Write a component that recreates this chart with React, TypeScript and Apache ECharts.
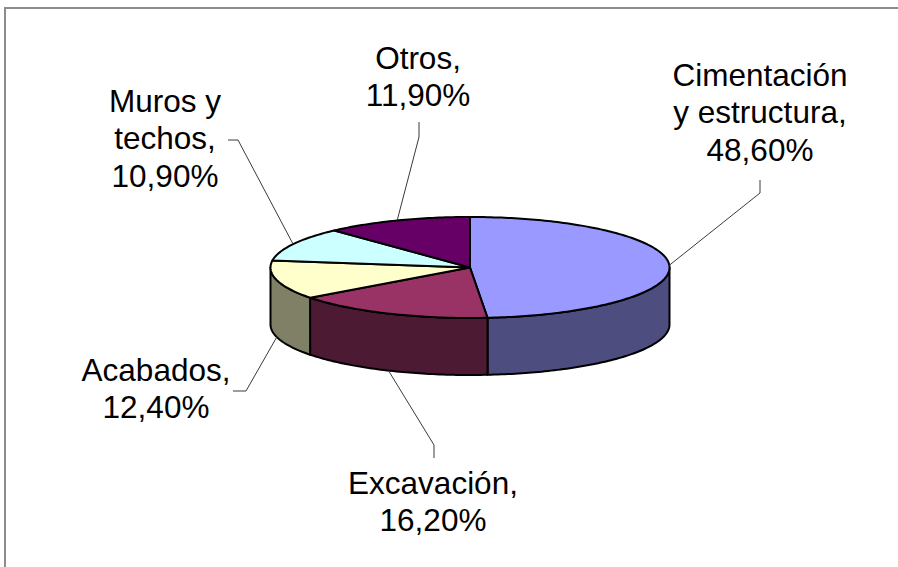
import React, { useEffect, useRef } from "react";
import * as echarts from "echarts";

// ---- Data ----
const CATEGORIES = ["Cimentación\ny estructura", "Excavación", "Acabados", "Muros y\ntechos", "Otros"];
const VALUES = [48.6, 16.2, 12.4, 10.9, 11.9];
const TOP_COLORS = ["#9999FF", "#993366", "#FFFFCC", "#CCFFFF", "#660066"];
const SIDE_COLORS = ["#4D4D80", "#4D1A33", "#808066", "#668080", "#330033"];

// ---- Layout (positions/styles only) ----
const CX = 470;
const CY = 267.5;
const RX = 199.5;
const RY = 50.5;
const DEPTH = 57;
const FONT = '31.5px "Liberation Sans", Arial, sans-serif';
const LABEL_LAYOUT = [
  { x: 760, y: 56, elbow: [760, 193], end: [760, 180] },
  { x: 433, y: 464, elbow: [434, 445], end: [434, 458] },
  { x: 156, y: 351, elbow: [246, 391], end: [233, 391] },
  { x: 165, y: 82, elbow: [238, 140], end: [228, 140] },
  { x: 418, y: 39, elbow: [419, 137], end: [419, 122] },
];

const pt = (deg: number, dy = 0): number[] => {
  const t = (deg * Math.PI) / 180;
  return [CX + RX * Math.sin(t), CY - RY * Math.cos(t) + dy];
};

const arc = (a: number, b: number, dy = 0): number[][] => {
  const pts: number[][] = [];
  const n = Math.max(2, Math.ceil((b - a) / 1));
  for (let i = 0; i <= n; i++) pts.push(pt(a + ((b - a) * i) / n, dy));
  return pts;
};

const fmt = (v: number) => v.toFixed(2).replace(".", ",") + "%";

export default function App() {
  const ref = useRef<HTMLDivElement>(null);
  useEffect(() => {
    if (!ref.current) return;
    const chart = echarts.init(ref.current, undefined, { renderer: "svg" });
    const total = VALUES.reduce((s, v) => s + v, 0);
    const starts: number[] = [];
    let acc = 0;
    VALUES.forEach((v) => {
      starts.push(acc);
      acc += v;
    });

    const renderItem = (params: any, api: any) => {
      const i = params.dataIndex;
      const v = api.value(0);
      const a = (starts[i] / total) * 360;
      const b = ((starts[i] + v) / total) * 360;
      const children: any[] = [];
      // side wall (front half only: 90..270)
      const sa = Math.max(a, 90);
      const sb = Math.min(b, 270);
      if (sb > sa) {
        const top = arc(sa, sb);
        const bottom = arc(sa, sb, DEPTH).reverse();
        children.push({
          type: "polygon",
          shape: { points: top.concat(bottom) },
          style: { fill: SIDE_COLORS[i], stroke: "#000", lineWidth: 2, lineJoin: "round" },
        });
      }
      // top face
      children.push({
        type: "polygon",
        shape: { points: [[CX, CY]].concat(arc(a, b)) },
        style: { fill: TOP_COLORS[i], stroke: "#000", lineWidth: 2, lineJoin: "round" },
      });
      // leader line
      const mid = (a + b) / 2;
      const front = mid > 90 && mid < 270;
      const anchor = pt(mid, front ? DEPTH : 0);
      const L = LABEL_LAYOUT[i];
      children.push({
        type: "polyline",
        shape: { points: [anchor, L.elbow, L.end] },
        style: { fill: null, stroke: "#3a3a3a", lineWidth: 1 },
        z2: 5,
      });
      children.push({
        type: "text",
        x: L.x,
        y: L.y,
        style: {
          text: CATEGORIES[i] + ",\n" + fmt(v),
          font: FONT,
          lineHeight: 37.5,
          fill: "#000",
          align: "center",
          verticalAlign: "top",
        },
        z2: 10,
      });
      return { type: "group", children };
    };

    chart.setOption({
      animation: false,
      backgroundColor: "#ffffff",
      graphic: [
        {
          type: "rect",
          shape: { x: 5, y: 8, width: 1000, height: 1000 },
          style: { fill: "none", stroke: "#8c8c8c", lineWidth: 2 },
          silent: true,
        },
      ],
      series: [
        {
          type: "custom",
          coordinateSystem: "none",
          renderItem,
          data: VALUES.map((v, i) => ({ value: [v], name: CATEGORIES[i] })),
          silent: true,
        },
      ],
    });
    return () => chart.dispose();
  }, []);
  return (
    <div
      ref={ref}
      style={{ position: "fixed", left: 0, top: 0, width: 898, height: 567 }}
    />
  );
}
